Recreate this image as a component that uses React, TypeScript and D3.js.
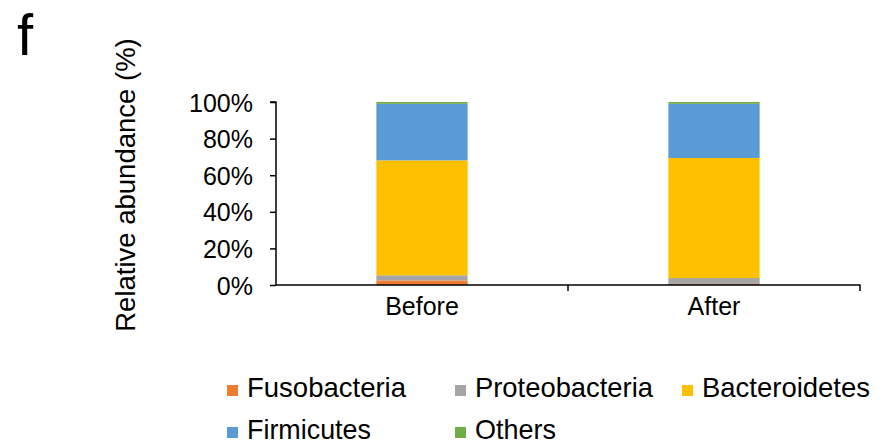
import { useEffect, useRef } from "react";
import * as d3 from "d3";

const groups = ["Before", "After"];
const phyla = ["Fusobacteria", "Proteobacteria", "Bacteroidetes", "Firmicutes", "Others"];
const colors = ["#ED7D31", "#A5A5A5", "#FFC000", "#5B9BD5", "#70AD47"];
// percent per phylum, same order as phyla
const beforeValues = [2.5, 2.8, 62.8, 30.9, 1.0];
const afterValues = [0.6, 3.2, 65.6, 29.6, 1.0];
const yTicks = [0, 0.2, 0.4, 0.6, 0.8, 1.0];

// legend layout (two rows, Excel style)
const legendSpots = [
  { x: 227, y: 385, w: 159 },
  { x: 455, y: 385, w: 178 },
  { x: 682, y: 385, w: 168 },
  { x: 227, y: 427, w: 124 },
  { x: 455, y: 427, w: 81 },
];

const FONT = "'Liberation Sans', Arial, Helvetica, sans-serif";

export default function App() {
  const svgRef = useRef<SVGSVGElement>(null);
  const width = 892;
  const height = 445;

  useEffect(() => {
    if (!svgRef.current) return;
    const svg = d3.select(svgRef.current);
    svg.selectAll("*").remove();

    const rows = [beforeValues, afterValues].map((vals, i) => {
      const row: any = { group: groups[i] };
      phyla.forEach((p, j) => (row[p] = vals[j] / 100));
      return row;
    });
    const series = d3.stack<any>().keys(phyla)(rows);

    const x = d3
      .scaleBand()
      .domain(groups)
      .range([276, 860])
      .paddingInner(0.6875)
      .paddingOuter(0.34375);
    const y = d3.scaleLinear().domain([0, 1]).range([285, 102]);

    // panel letter
    svg
      .append("text")
      .attr("x", 17)
      .attr("y", 55)
      .attr("font-family", FONT)
      .attr("font-size", 58)
      .text("f");

    // y label
    svg
      .append("text")
      .attr("transform", "translate(135,185) rotate(-90)")
      .attr("text-anchor", "middle")
      .attr("font-family", FONT)
      .attr("font-size", 27.5)
      .text("Relative abundance (%)");

    // bars
    svg
      .append("g")
      .selectAll("g")
      .data(series)
      .enter()
      .append("g")
      .attr("fill", (_d, i) => colors[i])
      .selectAll("rect")
      .data((d) => d)
      .enter()
      .append("rect")
      .attr("x", (d: any) => x(d.data.group)!)
      .attr("width", x.bandwidth())
      .attr("y", (d) => y(d[1]))
      .attr("height", (d) => y(d[0]) - y(d[1]));

    // y axis
    const yAxis = svg
      .append("g")
      .attr("transform", "translate(276,0)")
      .call(
        d3
          .axisLeft(y)
          .tickValues(yTicks)
          .tickSize(6)
          .tickPadding(17)
          .tickFormat((d) => `${Math.round(+d * 100)}%`)
      );
    yAxis.select(".domain").attr("stroke", "#000").attr("stroke-width", 1.5).attr("d", "M-6,102H0V285");
    yAxis.selectAll(".tick line").attr("stroke-width", 1.5);
    yAxis
      .selectAll(".tick text")
      .attr("font-family", FONT)
      .attr("font-size", 25)
      .attr("fill", "#000")
      .attr("dy", "0.36em");

    // x axis
    const xAxis = svg
      .append("g")
      .attr("transform", "translate(0,285)")
      .call(d3.axisBottom(x).tickSize(0).tickPadding(12));
    xAxis.select(".domain").attr("stroke", "#000").attr("stroke-width", 1.5).attr("d", "M276,0H860V6");
    xAxis
      .append("line")
      .attr("x1", 568)
      .attr("x2", 568)
      .attr("y1", 0)
      .attr("y2", 6)
      .attr("stroke", "#000")
      .attr("stroke-width", 1.5);
    xAxis
      .selectAll(".tick text")
      .attr("font-family", FONT)
      .attr("font-size", 25)
      .attr("fill", "#000")
      .attr("dy", "0.71em");

    // legend
    const leg = svg
      .append("g")
      .selectAll("g")
      .data(phyla)
      .enter()
      .append("g")
      .attr("transform", (_d, i) => `translate(${legendSpots[i].x},${legendSpots[i].y})`);
    leg
      .append("rect")
      .attr("width", 11)
      .attr("height", 11)
      .attr("fill", (_d, i) => colors[i]);
    leg
      .append("text")
      .attr("x", 20)
      .attr("y", 12)
      .attr("font-family", FONT)
      .attr("font-size", 28)
      .attr("textLength", (_d, i) => legendSpots[i].w)
      .attr("lengthAdjust", "spacingAndGlyphs")
      .text((d) => d);
  }, []);

  return (
    <svg
      ref={svgRef}
      width={width}
      height={height}
      style={{ position: "absolute", left: 0, top: 0, background: "#fff" }}
    />
  );
}
